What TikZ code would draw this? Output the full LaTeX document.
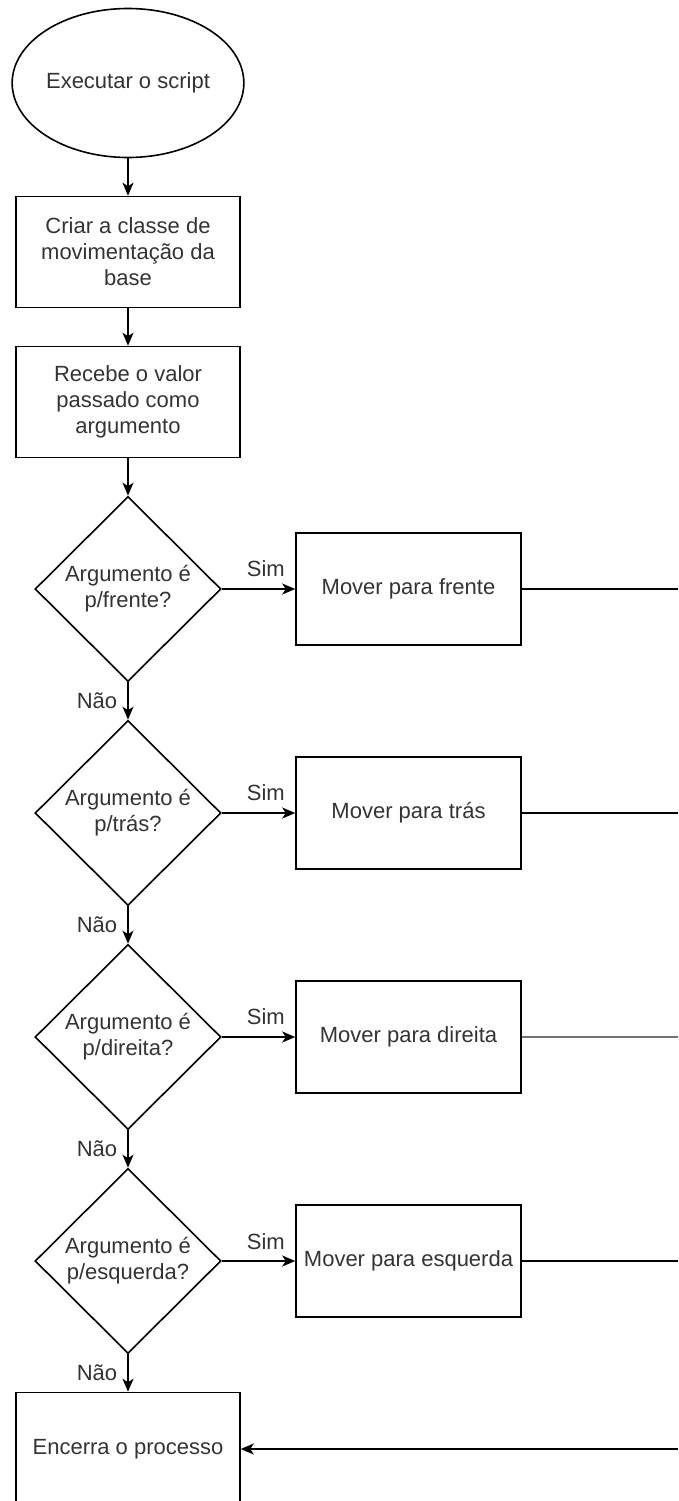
\documentclass[tikz,border=0pt]{standalone}
\usepackage{fontspec}
\setmainfont{Liberation Sans}
\usetikzlibrary{shapes.geometric,positioning,arrows.meta}
\newcommand{\pergunta}[1]{Argumento é\\p/#1?} % Decision text.

\begin{document}
\begin{tikzpicture}[x=1pt, y=-1pt, node distance=37.4pt,
  every node/.style={font=\fontsize{22}{26}\selectfont, text=black!80},
  startnode/.style={draw, ellipse, line width=1.6pt, minimum width=224pt, minimum height=149pt, inner sep=0pt},
  stepbox/.style={draw, rectangle, line width=1.6pt, minimum width=224pt, minimum height=111pt, align=center, inner sep=0pt},
  actbox/.style={stepbox, minimum width=225pt, minimum height=112pt},
  decision/.style={draw, diamond, aspect=1, line width=1.6pt, minimum width=186pt, minimum height=185pt, align=center, inner sep=0pt},
  flow/.style={-{Stealth[length=13pt,width=11pt,inset=3.5pt]}, line width=1.6pt},
  yes/.style={above=11pt, inner sep=0pt, pos=0.6},
  no/.style={left=10pt, inner sep=0pt, pos=0.5}]
\useasboundingbox (0,0) rectangle (678,1501);
\coordinate (redge) at (678,0);

\node[startnode] (start) at (128,83) {Executar o script};
\node[stepbox, below=of start] (criar) {Criar a classe de\\movimentação da\\base};
\node[stepbox, below=of criar] (recebe) {Recebe o valor\\passado como\\argumento};
\node[decision, below=of recebe] (frente) {\pergunta{frente}};
\node[decision, below=of frente] (tras) {\pergunta{trás}};
\node[decision, below=of tras] (direita) {\pergunta{direita}};
\node[decision, below=of direita] (esquerda) {\pergunta{esquerda}};
\node[stepbox, minimum height=113pt, below=of esquerda] (encerra) {Encerra o processo};

\node[actbox, right=73.4pt of frente] (mfrente) {Mover para frente};
\node[actbox, right=73.4pt of tras] (mtras) {Mover para trás};
\node[actbox, right=73.4pt of direita] (mdireita) {Mover para direita};
\node[actbox, right=73.4pt of esquerda] (mesquerda) {Mover para esquerda};

\coordinate (frenteR) at (mfrente -| redge);
\coordinate (trasR) at (mtras -| redge);
\coordinate (direitaR) at (mdireita -| redge);
\coordinate (esquerdaR) at (mesquerda -| redge);
\coordinate (encerraR) at (encerra -| redge);

\draw[flow] (start) -- (criar);
\draw[flow] (criar) -- (recebe);
\draw[flow] (recebe) -- (frente);
\draw[flow] (frente) -- node[no] {Não} (tras);
\draw[flow] (tras) -- node[no] {Não} (direita);
\draw[flow] (direita) -- node[no] {Não} (esquerda);
\draw[flow] (esquerda) -- node[no] {Não} (encerra);

\draw[flow] (frente) -- node[yes] {Sim} (mfrente);
\draw[flow] (tras) -- node[yes] {Sim} (mtras);
\draw[flow] (direita) -- node[yes] {Sim} (mdireita);
\draw[flow] (esquerda) -- node[yes] {Sim} (mesquerda);

\draw[line width=1.6pt] (mfrente) -- (frenteR);
\draw[line width=1.6pt] (mtras) -- (trasR);
\draw[line width=1.6pt, black!55] (mdireita) -- (direitaR);
\draw[line width=1.6pt] (mesquerda) -- (esquerdaR);
\draw[flow] (encerraR) -- (encerra);
\end{tikzpicture}
\end{document}
